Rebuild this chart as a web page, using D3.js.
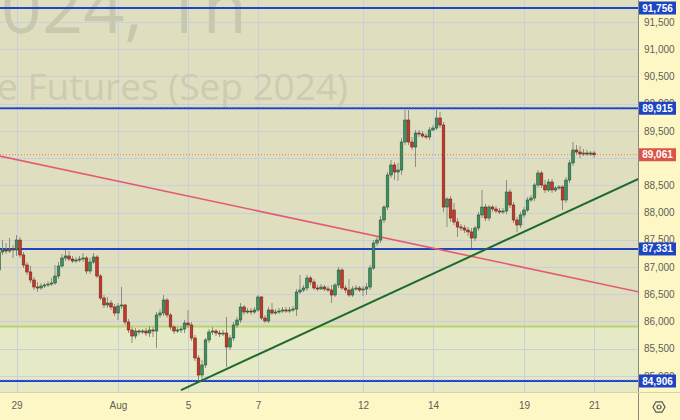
<!DOCTYPE html>
<html>
<head>
<meta charset="utf-8">
<script src="https://cdn.jsdelivr.net/npm/d3@7/dist/d3.min.js"></script>
<style>
    body { margin: 0; background: #fdf7c6; }
    svg { display: block; font-family: "Liberation Sans", Arial, sans-serif; }
    .axis path, .axis line { display: none; }
    .axis text { fill: #5e5e56; font-size: 10px; }
</style>
</head>
<body>
<script>
//chart size
var w = 680, h = 420;
var plotW = 638, plotH = 392;

//candles, one per hour: [open, high, low, close]
var candles = [
    [86944,87404,86908,87275],[87275,87495,87220,87312],[87312,87440,87238,87293],[87293,87532,87257,87330],
    [87330,87404,87165,87312],[87312,87587,87202,87495],[87495,87550,87165,87220],[87220,87275,86981,87036],
    [87036,87091,86853,86908],[86908,87018,86706,86761],[86761,86816,86577,86632],[86632,86724,86540,86614],
    [86614,86706,86577,86651],[86651,86706,86614,86669],[86669,86742,86632,86687],[86687,86798,86651,86706],
    [86706,87036,86669,86834],[86834,87091,86779,87018],[87018,87238,86981,87165],[87165,87312,87110,87202],
    [87202,87293,87110,87146],[87146,87202,87073,87110],[87110,87183,87073,87128],[87128,87202,87091,87146],
    [87146,87257,87091,87165],[87165,87202,86871,86926],[86926,87165,86871,87091],[87091,87257,87055,87183],
    [87183,87220,86798,86834],[86834,86871,86393,86430],[86430,86485,86247,86302],[86302,86449,86247,86338],
    [86338,86393,86210,86265],[86265,86320,86100,86155],[86155,86338,86026,86283],[86283,86632,86228,86302],
    [86302,86320,85934,85989],[85989,86045,85787,85843],[85843,85898,85604,85732],[85732,85879,85677,85824],
    [85824,85861,85751,85806],[85806,85861,85769,85824],[85824,85879,85732,85787],[85787,85916,85714,85843],
    [85843,85898,85714,85824],[85824,86173,85512,86118],[86118,86228,86063,86155],[86155,86485,86100,86393],
    [86393,86430,86063,86118],[86118,86155,85843,85898],[85898,85934,85769,85824],[85824,85898,85787,85843],
    [85843,85916,85787,85861],[85861,86026,85787,85971],[85971,86210,85879,85934],[85934,85989,85641,85696],
    [85696,85751,85273,85328],[85328,85383,84924,85016],[85016,85292,84906,85200],[85200,85696,85145,85659],
    [85659,85861,85604,85806],[85806,85898,85751,85824],[85824,85861,85732,85787],[85787,85843,85714,85769],
    [85769,85843,85732,85787],[85787,86081,85163,85530],[85530,85751,85475,85696],[85696,85989,85641,85934],
    [85934,86081,85879,86026],[86026,86338,85971,86265],[86265,86302,86118,86173],[86173,86247,86136,86191],
    [86191,86247,86118,86173],[86173,86265,86136,86210],[86210,86485,86173,86449],[86449,86467,86026,86063],
    [86063,86118,85971,86008],[86008,86265,85971,86210],[86210,86338,86118,86155],[86155,86228,86118,86173],
    [86173,86247,86136,86191],[86191,86265,86155,86210],[86210,86265,86155,86191],[86191,86265,86155,86210],
    [86210,86283,86173,86228],[86228,86596,86100,86540],[86540,86853,86504,86577],[86577,86669,86540,86614],
    [86614,86853,86559,86798],[86798,86834,86669,86724],[86724,86779,86577,86614],[86614,86669,86559,86596],
    [86596,86687,86577,86632],[86632,86669,86559,86596],[86596,86651,86540,86577],[86577,86669,86338,86485],
    [86485,86706,86449,86669],[86669,87000,86614,86944],[86944,86981,86577,86614],[86614,86669,86522,86577],
    [86577,86779,86449,86485],[86485,86651,86449,86596],[86596,86669,86559,86614],[86614,86651,86540,86577],
    [86577,86651,86467,86596],[86596,86706,86485,86632],[86632,87036,86577,86981],[86981,87495,86944,87440],
    [87440,87569,87385,87495],[87495,87936,87440,87863],[87863,88138,87808,88101],[88101,88744,88046,88689],
    [88689,88965,88634,88873],[88873,88928,88597,88744],[88744,88910,88579,88781],[88781,89369,88689,89295],
    [89295,89883,89240,89699],[89699,89883,89240,89295],[89295,89387,89148,89203],[89203,89516,88836,89460],
    [89460,89516,89387,89442],[89442,89497,89369,89405],[89405,89460,89350,89387],[89387,89571,89332,89516],
    [89516,89607,89497,89552],[89552,89883,89516,89736],[89736,89846,89552,89607],[89607,89662,88010,88101],
    [88101,88285,87734,88248],[88248,88303,87826,87899],[88046,88175,87771,87826],[87826,87899,87550,87734],
    [87734,87789,87661,87716],[87716,87771,87624,87679],[87679,87734,87569,87643],[87643,87716,87348,87532],
    [87532,87753,87477,87716],[87716,88010,87661,87955],[87955,88414,87899,88101],[88101,88157,87844,87899],
    [87899,88138,87844,88101],[88101,88138,88010,88065],[88065,88120,87991,88028],[88028,88083,87973,88010],
    [88010,88083,87973,88028],[88028,88597,87973,88377],[88377,88432,88083,88138],[88138,88193,87808,87863],
    [87863,87918,87643,87771],[87771,88010,87716,87955],[87955,88101,87899,88046],[88046,88285,88010,88230],
    [88230,88322,88193,88267],[88267,88542,88212,88505],[88505,88781,88450,88726],[88726,88763,88450,88505],
    [88505,88597,88359,88414],[88414,88616,88377,88561],[88561,88616,88359,88414],[88414,88487,88377,88450],
    [88450,88505,88414,88469],[88469,88505,88046,88230],[88230,88652,88175,88597],[88597,88965,88542,88910],
    [88910,89295,88854,89148],[89148,89240,89056,89112],[89112,89222,89001,89075],[89075,89167,89038,89093],
    [89093,89148,89038,89075],[89075,89130,89038,89093],[89093,89130,89001,89061]
];

//time axis: candle index of each day label
var dayIdx = [5, 34, 54, 74, 104, 124, 150, 170];
var dayLabels = ["29", "Aug", "5", "7", "12", "14", "19", "21"];

//price axis (89,000 sits under the last price badge, so it is not drawn)
var gridTicks = [84500, 85000, 85500, 86000, 86500, 87000, 87500, 88000, 88500, 89000, 89500, 90000, 90500, 91000, 91500, 92000];
var priceTicks = [85000, 85500, 86000, 86500, 87000, 87500, 88000, 88500, 89500, 90000, 90500, 91000, 91500];
var levels = [91756, 89915, 87331, 84906]; //blue horizontal levels
var dottedLevels = [89915, 84906];
var zoneLevel = 85906; //light green level
var lastPrice = 89061;

//trend lines: [candle index, price]
var redTrend = [[0, 89040], [180, 86580]];
var greenTrend = [[52, 84740], [182, 88597]];

//watermark
var titleLines = ["SiU2024, 1h", "US Dollar - Russian Ruble Futures (Sep 2024)"];

//scales
var x = d3.scaleLinear()
    .domain([0, 170])
    .range([-1, 594]);

var y = d3.scaleLinear()
    .domain([84906, 91756])
    .range([381, 8]);

var fmt = d3.format(",");

var svg = d3.select("body")
    .append("svg")
    .attr("width", w)
    .attr("height", h);

//clip for the plot
svg.append("clipPath")
    .attr("id", "plotClip")
    .append("rect")
    .attr("width", plotW)
    .attr("height", plotH);

var plot = svg.append("g")
    .attr("class", "plot")
    .attr("clip-path", "url(#plotClip)");

//backgrounds
plot.append("rect")
    .attr("width", plotW)
    .attr("height", plotH)
    .style("fill", "#dfdfbf");

plot.append("rect")
    .attr("y", y(zoneLevel))
    .attr("width", plotW)
    .attr("height", plotH - y(zoneLevel))
    .style("fill", "#e6e9c6");

//grid
plot.selectAll(".hgrid")
    .data(gridTicks)
    .enter()
    .append("line")
    .attr("class", "hgrid")
    .attr("x1", 0)
    .attr("x2", plotW)
    .attr("y1", function(d){ return Math.round(y(d)) + 0.5; })
    .attr("y2", function(d){ return Math.round(y(d)) + 0.5; })
    .style("stroke", "#c9cfdc")
    .style("stroke-width", 1);

plot.selectAll(".vgrid")
    .data(dayIdx)
    .enter()
    .append("line")
    .attr("class", "vgrid")
    .attr("x1", function(d){ return Math.round(x(d)) + 0.5; })
    .attr("x2", function(d){ return Math.round(x(d)) + 0.5; })
    .attr("y1", 0)
    .attr("y2", plotH)
    .style("stroke", "#c9cfdc")
    .style("stroke-width", 1);

//watermark text
plot.append("text")
    .attr("x", 247)
    .attr("y", 33)
    .attr("text-anchor", "end")
    .style("font-family", "'Open Sans', 'DejaVu Sans', sans-serif")
    .style("font-size", "72px")
    .style("fill", "#c7c8ae")
    .text(titleLines[0]);

plot.append("text")
    .attr("x", 348)
    .attr("y", 100)
    .attr("text-anchor", "end")
    .style("font-family", "'Open Sans', 'DejaVu Sans', sans-serif")
    .style("font-size", "37px")
    .style("fill", "#cbccb2")
    .text(titleLines[1]);

//green zone level
plot.append("line")
    .attr("x1", 0)
    .attr("x2", plotW)
    .attr("y1", y(zoneLevel))
    .attr("y2", y(zoneLevel))
    .style("stroke", "#b4d66a")
    .style("stroke-width", 2);

//blue levels
plot.selectAll(".level")
    .data(levels)
    .enter()
    .append("line")
    .attr("class", "level")
    .attr("x1", 0)
    .attr("x2", plotW)
    .attr("y1", function(d){ return y(d); })
    .attr("y2", function(d){ return y(d); })
    .style("stroke", "#1d44c4")
    .style("stroke-width", 2);

plot.selectAll(".dotLevel")
    .data(dottedLevels)
    .enter()
    .append("line")
    .attr("class", "dotLevel")
    .attr("x1", 0)
    .attr("x2", plotW)
    .attr("y1", function(d){ return y(d) - 1; })
    .attr("y2", function(d){ return y(d) - 1; })
    .style("stroke", "#8da0d8")
    .style("stroke-width", 1)
    .style("stroke-dasharray", "1,2");

//last price dotted line
plot.append("line")
    .attr("x1", 0)
    .attr("x2", plotW)
    .attr("y1", y(lastPrice))
    .attr("y2", y(lastPrice))
    .style("stroke", "#e8735e")
    .style("stroke-width", 1)
    .style("stroke-dasharray", "1,2");

//trend lines, extended to the right edge
function trendLine(pts, color, width){
    var x0 = x(pts[0][0]), y0 = y(pts[0][1]);
    var x1 = x(pts[1][0]), y1 = y(pts[1][1]);
    var slope = (y1 - y0) / (x1 - x0);
    plot.append("line")
        .attr("x1", x0)
        .attr("y1", y0)
        .attr("x2", plotW + 5)
        .attr("y2", y0 + slope * (plotW + 5 - x0))
        .style("stroke", color)
        .style("stroke-width", width);
}
trendLine(redTrend, "#e35b72", 1.6);

//candles
var bodyW = 2.6;
var candleG = plot.selectAll(".candle")
    .data(candles)
    .enter()
    .append("g")
    .attr("class", "candle");

candleG.append("line")
    .attr("x1", function(d, i){ return x(i); })
    .attr("x2", function(d, i){ return x(i); })
    .attr("y1", function(d){ return y(d[1]); })
    .attr("y2", function(d){ return y(d[2]); })
    .style("stroke", "#8c8c84")
    .style("stroke-width", 1);

candleG.append("rect")
    .attr("x", function(d, i){ return x(i) - bodyW / 2; })
    .attr("y", function(d){ return y(Math.max(d[0], d[3])); })
    .attr("width", bodyW)
    .attr("height", function(d){ return Math.max(1, Math.abs(y(d[0]) - y(d[3]))); })
    .style("fill", function(d){ return d[3] >= d[0] ? "#3f8f5f" : "#c0392b"; })
    .style("stroke", function(d){ return d[3] >= d[0] ? "#24583a" : "#7c2218"; })
    .style("stroke-width", 0.6);

trendLine(greenTrend, "#1f6b2b", 2);

//right price axis panel
svg.append("rect")
    .attr("x", plotW)
    .attr("width", w - plotW)
    .attr("height", h)
    .style("fill", "#fdf7c6");

//bottom axis panel
svg.append("rect")
    .attr("y", plotH)
    .attr("width", plotW)
    .attr("height", h - plotH)
    .style("fill", "#fdf7c6");

svg.append("line")
    .attr("x1", plotW + 0.5)
    .attr("x2", plotW + 0.5)
    .attr("y1", 0)
    .attr("y2", h)
    .style("stroke", "#8a8a80");

svg.append("line")
    .attr("x1", 0)
    .attr("x2", w)
    .attr("y1", plotH + 0.5)
    .attr("y2", plotH + 0.5)
    .style("stroke", "#d8d2a8");

//price axis
var yAxis = d3.axisRight(y)
    .tickValues(priceTicks)
    .tickFormat(fmt)
    .tickSize(0)
    .tickPadding(6);

svg.append("g")
    .attr("class", "axis")
    .attr("transform", "translate(" + plotW + ",0)")
    .call(yAxis);

//time axis
var xAxis = d3.axisBottom(x)
    .tickValues(dayIdx)
    .tickFormat(function(d, i){ return dayLabels[i]; })
    .tickSize(0)
    .tickPadding(10);

svg.append("g")
    .attr("class", "axis")
    .attr("transform", "translate(0," + plotH + ")")
    .call(xAxis);

//price badges
var badges = levels.map(function(v){ return {v: v, c: "#1d44c4"}; })
    .concat([{v: lastPrice, c: "#db5446"}]);

var badge = svg.selectAll(".badge")
    .data(badges)
    .enter()
    .append("g")
    .attr("class", "badge")
    .attr("transform", function(d){ return "translate(" + (plotW + 1) + "," + y(d.v) + ")"; });

badge.append("rect")
    .attr("x", 0)
    .attr("y", -6.5)
    .attr("width", 37)
    .attr("height", 13)
    .style("fill", function(d){ return d.c; });

badge.append("text")
    .attr("x", 18.5)
    .attr("y", 3.5)
    .attr("text-anchor", "middle")
    .style("fill", "#ffffff")
    .style("font-size", "10px")
    .style("font-weight", "bold")
    .text(function(d){ return fmt(d.v); });

//settings icon
var gear = svg.append("g")
    .attr("transform", "translate(659,407)");

gear.append("path")
    .attr("d", d3.range(6).map(function(k){
        var a = Math.PI / 3 * k;
        return (k ? "L" : "M") + (6 * Math.cos(a)).toFixed(2) + "," + (6 * Math.sin(a)).toFixed(2);
    }).join("") + "Z")
    .style("fill", "none")
    .style("stroke", "#555")
    .style("stroke-width", 1.2);

gear.append("circle")
    .attr("r", 2)
    .style("fill", "none")
    .style("stroke", "#555")
    .style("stroke-width", 1.2);
</script>
</body>
</html>
